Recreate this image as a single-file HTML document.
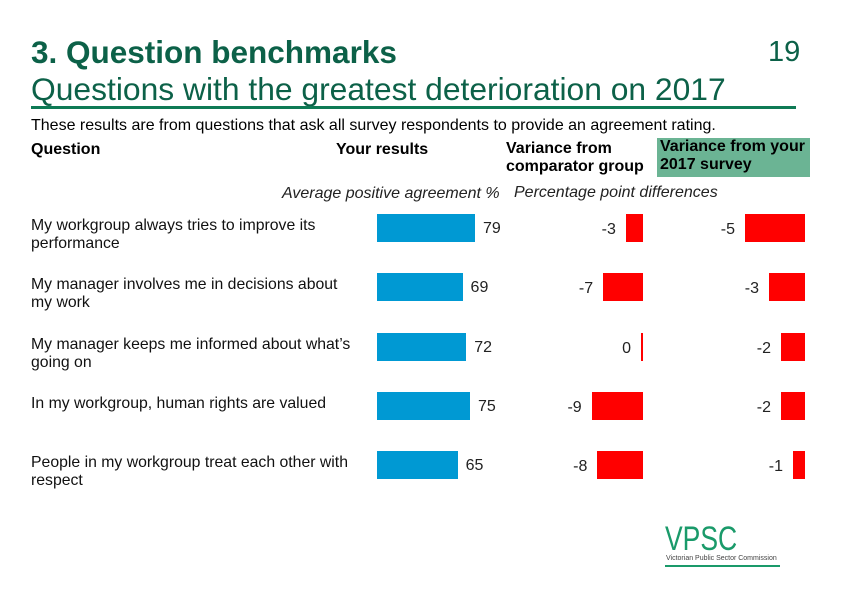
<!DOCTYPE html>
<html><head><meta charset="utf-8"><style>
body{margin:0;width:842px;height:596px;background:#fff;font-family:"Liberation Sans",sans-serif;position:relative;overflow:hidden}
.a{position:absolute;white-space:nowrap}
</style></head><body>
<div class="a" style="left:31px;top:34px;font-size:31.5px;font-weight:bold;color:#0c6148">3. Question benchmarks</div>
<div class="a" style="left:31px;top:71px;font-size:31.8px;color:#0c6148">Questions with the greatest deterioration on 2017</div>
<div class="a" style="left:768px;top:36px;font-size:29px;color:#0c6148">19</div>
<div class="a" style="left:31px;top:106px;width:765px;height:3px;background:#0e7a55"></div>
<div class="a" style="left:31px;top:117px;font-size:16px;color:#000">These results are from questions that ask all survey respondents to provide an agreement rating.</div>
<div class="a" style="left:31px;top:141px;font-size:16px;font-weight:bold">Question</div>
<div class="a" style="left:336px;top:141px;font-size:16px;font-weight:bold">Your results</div>
<div class="a" style="left:506px;top:140px;font-size:16px;font-weight:bold;line-height:18px">Variance from<br>comparator group</div>
<div class="a" style="left:657px;top:138px;width:153px;height:39px;background:#6bb494;font-size:16px;font-weight:bold;line-height:18px;padding-left:3px;box-sizing:border-box">Variance from your<br>2017 survey</div>
<div class="a" style="left:282px;top:185px;font-size:16px;font-style:italic;color:#222">Average positive agreement %</div>
<div class="a" style="left:514px;top:184px;font-size:16px;font-style:italic;color:#222">Percentage point differences</div>
<div id="chart"></div>
<svg class="a" style="left:660px;top:520px" width="130" height="50">
<text x="5" y="30" font-family="Liberation Sans, sans-serif" font-size="34" fill="#1a9a6a" transform="scale(0.78,1)" transform-origin="5 30">VPSC</text>
<text x="6" y="40" font-size="7" fill="#444">Victorian Public Sector Commission</text>
<rect x="5" y="45" width="115" height="2" fill="#1a9a6a"/>
</svg>
<script>
const questions=["My workgroup always tries to improve its\nperformance","My manager involves me in decisions about\nmy work","My manager keeps me informed about what’s\ngoing on","In my workgroup, human rights are valued","People in my workgroup treat each other with\nrespect"];
const yourResults=[79,69,72,75,65];
const comparatorDiff=[-3,-7,0,-9,-8];
const survey2017Diff=[-5,-3,-2,-2,-1];
const c=document.getElementById('chart');
const rowY=i=>214+i*59.3;
const xRes=v=>v*1.24;
const xCmp=v=>v*5.7;
const x17=v=>v*12;
function el(css,txt){const d=document.createElement('div');d.className='a';d.style.cssText=css;if(txt!==undefined)d.textContent=txt;c.appendChild(d);return d;}
questions.forEach((q,i)=>{
  const y=rowY(i);
  const t=el('left:31px;top:'+(y+3)+'px;font-size:15.8px;line-height:18px;white-space:pre;color:#111',q);
  
  
  const w=xRes(yourResults[i]);
  const b=el('left:377px;top:'+y+'px;width:'+w+'px;height:28px;background:#0099d3');
  
  
  const l=el('left:'+(377+w+8)+'px;top:'+(y+6)+'px;font-size:16px;color:#222',String(yourResults[i]));
  
  
  const cw=Math.max(Math.abs(xCmp(comparatorDiff[i])),2);
  const cb=el('left:'+(643-cw)+'px;top:'+y+'px;width:'+cw+'px;height:28px;background:#ff0000');
  
  
  const cl=el('right:'+(842-(643-cw-10))+'px;top:'+(y+7)+'px;font-size:16px;color:#222',String(comparatorDiff[i]));
  
  
  const sw=Math.abs(x17(survey2017Diff[i]));
  const sb=el('left:'+(805-sw)+'px;top:'+y+'px;width:'+sw+'px;height:28px;background:#ff0000');
  
  
  const sl=el('right:'+(842-(805-sw-10))+'px;top:'+(y+7)+'px;font-size:16px;color:#222',String(survey2017Diff[i]));
  
  
});
</script>
</body></html>
